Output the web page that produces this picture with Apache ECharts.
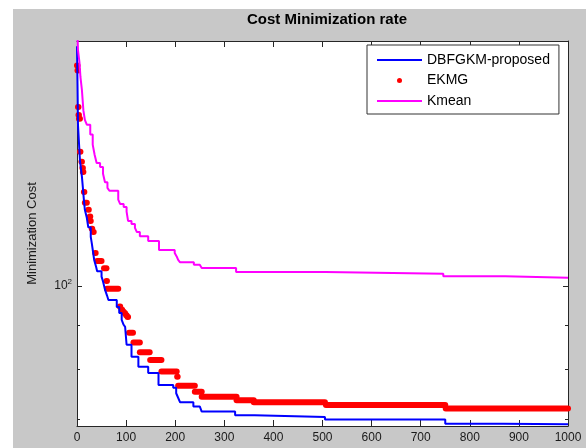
<!DOCTYPE html>
<html>
<head>
<meta charset="utf-8">
<script src="https://cdn.jsdelivr.net/npm/echarts@6/dist/echarts.min.js"></script>
<style>
  html, body { margin: 0; padding: 0; background: #fff; }
  #cost-chart { width: 586px; height: 448px; }
</style>
</head>
<body>
<div id="cost-chart"></div>
<script>
// iteration -> cost (each point starts a new level)
const dbfIter = [0, 1, 2, 6, 10, 12, 14, 16, 20, 23, 28, 30, 33, 35, 39, 41, 50, 53, 57, 61, 64, 81, 86, 91, 95, 98, 101, 111, 125, 145, 166, 196, 202, 206, 210, 237, 250, 254, 322, 362, 505, 750, 868, 1000]
const dbfCost = [190, 172, 154, 140, 134, 130, 126, 122.6, 120, 117, 114, 112.2, 109.2, 107.2, 105.2, 104, 102.5, 101.2, 99, 97.5, 96.3, 94.5, 93, 91.3, 90.1, 89.6, 85.4, 82.7, 80.5, 79.2, 76.7, 76.1, 75, 74.1, 73.2, 72.4, 72.1, 71.4, 70.7, 70.4, 69.9, 69.1, 69, 69]

// EKMG markers: runs of equal cost (first iteration, last iteration, cost)
const ekmgStart = [0, 1, 2, 3, 4, 6, 9, 11, 12, 14, 16, 23, 26, 27, 30, 33, 37, 41, 55, 60, 61, 87, 91, 94, 97, 100, 103, 106, 115, 128, 149, 172, 204, 206, 240, 254, 325, 360, 507, 751]
const ekmgEnd = [1, 2, 3, 4, 6, 7, 10, 12, 13, 15, 20, 24, 27, 28, 31, 34, 38, 50, 60, 61, 84, 88, 92, 95, 98, 101, 104, 114, 128, 148, 172, 203, 205, 240, 254, 325, 360, 505, 750, 1000]
const ekmgCost = [180.5, 178, 161.5, 158, 156.5, 143.2, 139.4, 137.1, 135.7, 128.6, 124.9, 122.6, 120.4, 119, 116.5, 115.5, 109.2, 106.9, 104.8, 101.3, 99.2, 94.6, 93.8, 93.3, 92.9, 92.4, 92, 88.2, 85.9, 83.7, 82, 79.5, 78.4, 76.5, 75.3, 74.3, 73.6, 73.2, 72.7, 72]

const kmeanIter = [0, 2, 5, 7, 10, 13, 16, 20, 27, 32, 36, 40, 47, 53, 57, 62, 66, 84, 88, 95, 101, 104, 111, 118, 122, 128, 145, 167, 199, 203, 206, 210, 238, 250, 254, 324, 506, 746, 872, 1000]
const kmeanCost = [205, 188, 182, 175, 169, 160, 156, 154, 150, 146, 142, 139, 137.5, 135, 132, 130, 129, 126, 124.5, 123.5, 122, 119, 118, 116.8, 115.5, 114.2, 112.8, 110.1, 109.2, 108.2, 107.2, 106.5, 105.8, 105.4, 104.9, 103.8, 103.3, 102.6, 102.2, 102.2]

const xTicks = [0, 100, 200, 300, 400, 500, 600, 700, 800, 900, 1000]
const yMajor = [100]
const yMinor = [70, 80, 90]

const font = 'Liberation Sans, Arial, sans-serif'
const axisColor = '#262626'
const yMin = 68.7
const yMax = 192.7

// legend icons drawn in a 45x14 box
const lineIcon = 'path://M0,0M45,14M0,6h45v2h-45Z'
const dotIcon = 'path://M0,0M45,14M20,7a2.5,2.5,0,1,0,5,0a2.5,2.5,0,1,0,-5,0Z'

function xAxisOf(position, labels) {
  return {
    type: 'value',
    position,
    min: 0,
    max: 1000,
    interval: 100,
    axisLine: { show: true, lineStyle: { color: axisColor, width: 1 } },
    axisTick: { show: true, inside: true, length: 6, lineStyle: { color: axisColor } },
    axisLabel: {
      show: labels,
      margin: 6,
      color: '#1a1a1a',
      fontSize: 12,
      fontFamily: font,
      customValues: xTicks,
      formatter: v => String(v)
    },
    splitLine: { show: false }
  }
}

function yAxisOf(position, ticks, len, withLine, extra) {
  return Object.assign({
    type: 'log',
    logBase: 10,
    position,
    min: yMin,
    max: yMax,
    axisLine: { show: withLine, lineStyle: { color: axisColor, width: 1 } },
    axisTick: { show: true, inside: true, length: len, customValues: ticks, lineStyle: { color: axisColor } },
    axisLabel: { show: false },
    splitLine: { show: false }
  }, extra || {})
}

const chart = echarts.init(document.getElementById('cost-chart'))

const option = {
  backgroundColor: '#c8c8c8',
  animation: false,
  title: {
    text: 'Cost Minimization rate',
    left: 322,
    top: 7,
    textAlign: 'center',
    textStyle: { fontSize: 15, fontWeight: 'bold', color: '#000', fontFamily: font }
  },
  graphic: [
    { type: 'rect', left: 0, top: 0, shape: { width: 13, height: 448 }, style: { fill: '#fff' }, silent: true },
    { type: 'rect', left: 0, top: 0, shape: { width: 586, height: 9 }, style: { fill: '#fff' }, silent: true }
  ],
  legend: {
    orient: 'vertical',
    left: 367,
    top: 45,
    padding: [8, 9, 6, 10],
    itemGap: 6.5,
    itemWidth: 45,
    itemHeight: 14,
    backgroundColor: '#fff',
    borderColor: '#333',
    borderWidth: 1,
    borderRadius: 0,
    textStyle: { fontSize: 14, color: '#000', fontFamily: font },
    data: [
      { name: 'DBFGKM-proposed', icon: lineIcon, itemStyle: { color: '#0000ff' } },
      { name: 'EKMG', icon: dotIcon, itemStyle: { color: '#ff0000' } },
      { name: 'Kmean', icon: lineIcon, itemStyle: { color: '#ff00ff' } }
    ]
  },
  grid: {
    left: 77,
    top: 41,
    right: 18,
    bottom: 22,
    show: true,
    backgroundColor: '#fff',
    borderWidth: 0
  },
  xAxis: [
    xAxisOf('bottom', true),
    xAxisOf('top', false)
  ],
  yAxis: [
    yAxisOf('left', yMajor, 5, true, {
      name: 'Minimization Cost',
      nameLocation: 'middle',
      nameGap: 38,
      nameTextStyle: { fontSize: 13, color: '#1a1a1a', fontFamily: font },
      axisLabel: {
        show: true,
        margin: 5,
        customValues: yMajor,
        fontFamily: font,
        formatter: () => '{b|10}{s|2}',
        rich: {
          b: { fontSize: 12, color: '#1a1a1a', fontFamily: font },
          s: { fontSize: 8, color: '#1a1a1a', fontFamily: font, verticalAlign: 'bottom', padding: [0, 0, 8, 0] }
        }
      }
    }),
    yAxisOf('left', yMinor, 3, false),
    yAxisOf('right', yMajor, 5, true),
    yAxisOf('right', yMinor, 3, false)
  ],
  series: [
    {
      name: 'DBFGKM-proposed',
      type: 'line',
      step: 'end',
      symbol: 'none',
      color: '#0000ff',
      lineStyle: { width: 2, color: '#0000ff' },
      data: dbfIter.map((x, i) => [x, dbfCost[i]])
    },
    {
      name: 'EKMG',
      type: 'custom',
      color: '#ff0000',
      itemStyle: { color: '#ff0000' },
      encode: { x: [0, 1], y: 2 },
      data: ekmgStart.map((x, i) => [x, ekmgEnd[i], ekmgCost[i]]),
      renderItem: (params, api) => {
        const a = api.coord([api.value(0), api.value(2)])
        const b = api.coord([api.value(1), api.value(2)])
        return {
          type: 'line',
          shape: { x1: a[0], y1: a[1], x2: b[0], y2: b[1] },
          style: { stroke: '#ff0000', lineWidth: 6, lineCap: 'round' }
        }
      }
    },
    {
      name: 'Kmean',
      type: 'line',
      step: 'end',
      symbol: 'none',
      color: '#ff00ff',
      lineStyle: { width: 2, color: '#ff00ff' },
      data: kmeanIter.map((x, i) => [x, kmeanCost[i]])
    }
  ]
}

chart.setOption(option)
</script>
</body>
</html>
